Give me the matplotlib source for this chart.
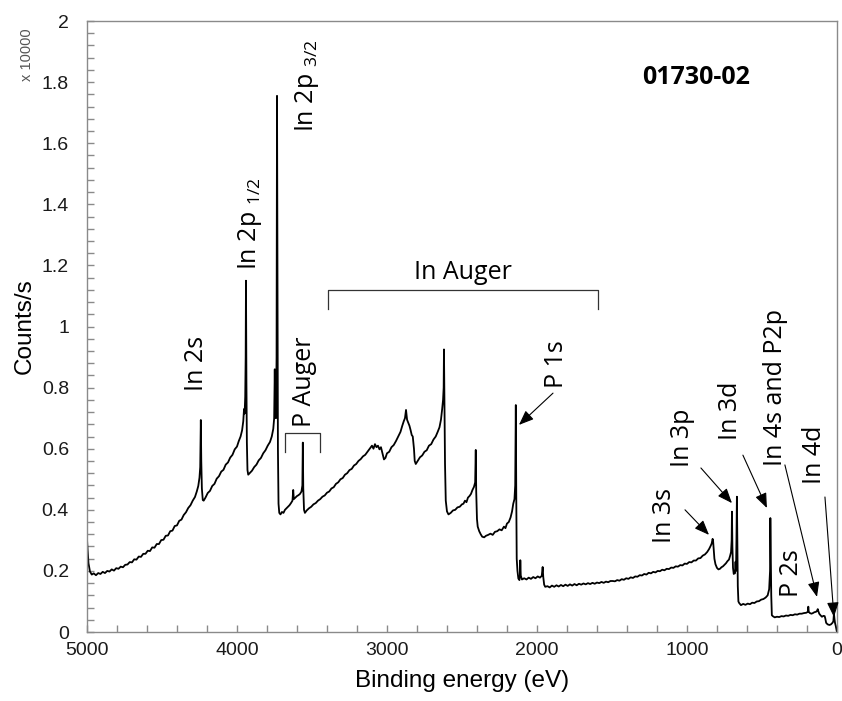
import matplotlib
matplotlib.use("Agg")
from matplotlib import pyplot as plt
from matplotlib.ticker import MultipleLocator, FuncFormatter

# survey spectrum (binding energy eV, counts/s in units of 10^4)
region_in2s = [(5000, 0.305), (4996, 0.27), (4990, 0.225), (4980, 0.198), (4968, 0.188),
               (4955, 0.192), (4940, 0.186), (4925, 0.193), (4910, 0.19), (4895, 0.197),
               (4880, 0.193), (4865, 0.2), (4850, 0.198), (4835, 0.205), (4820, 0.201),
               (4805, 0.209), (4790, 0.207), (4775, 0.214), (4760, 0.212), (4745, 0.22),
               (4730, 0.221), (4715, 0.229), (4700, 0.228), (4685, 0.238), (4670, 0.237),
               (4655, 0.247), (4640, 0.246), (4625, 0.256), (4610, 0.256), (4595, 0.266),
               (4580, 0.265), (4565, 0.277), (4550, 0.276), (4535, 0.288), (4520, 0.288),
               (4505, 0.301), (4490, 0.302), (4475, 0.315), (4460, 0.316), (4445, 0.33),
               (4430, 0.332), (4415, 0.347), (4400, 0.349), (4385, 0.364), (4370, 0.368),
               (4355, 0.383), (4340, 0.392), (4325, 0.406), (4310, 0.415), (4295, 0.43),
               (4280, 0.442), (4268, 0.46), (4258, 0.478), (4250, 0.505), (4245, 0.54),
               (4241, 0.694), (4238, 0.56), (4234, 0.47), (4228, 0.432), (4222, 0.43)]

region_in2p12 = [(4210, 0.44), (4195, 0.455), (4180, 0.462), (4165, 0.478), (4150, 0.485),
                 (4135, 0.502), (4120, 0.51), (4105, 0.525), (4090, 0.531), (4075, 0.548),
                 (4060, 0.555), (4045, 0.571), (4030, 0.58), (4015, 0.598), (4000, 0.607),
                 (3988, 0.625), (3976, 0.64), (3966, 0.66), (3958, 0.69), (3953, 0.73),
                 (3949, 0.715), (3945, 0.77), (3942, 0.9), (3940, 1.15), (3937, 0.82),
                 (3934, 0.62), (3930, 0.53), (3925, 0.515)]

region_in2p32 = [(3915, 0.52), (3900, 0.528), (3885, 0.54), (3870, 0.548), (3855, 0.562),
                 (3840, 0.57), (3825, 0.585), (3810, 0.595), (3795, 0.61), (3780, 0.622),
                 (3768, 0.64), (3758, 0.665), (3752, 0.7), (3748, 0.86), (3745, 0.72),
                 (3740, 0.7), (3736, 0.9), (3733, 1.755), (3730, 1.1), (3727, 0.6),
                 (3723, 0.42), (3718, 0.39)]

region_p_auger = [(3710, 0.385), (3700, 0.393), (3690, 0.39), (3680, 0.4), (3670, 0.405),
                  (3660, 0.41), (3650, 0.415), (3640, 0.422), (3630, 0.43), (3625, 0.465),
                  (3621, 0.435), (3610, 0.44), (3600, 0.445), (3590, 0.448), (3580, 0.452),
                  (3570, 0.46), (3564, 0.48), (3561, 0.62), (3558, 0.47), (3553, 0.4),
                  (3547, 0.39)]

region_in_auger = [(3535, 0.398), (3520, 0.405), (3505, 0.41), (3490, 0.418), (3475, 0.422),
                   (3460, 0.43), (3445, 0.435), (3430, 0.443), (3415, 0.447), (3400, 0.456),
                   (3385, 0.46), (3370, 0.47), (3355, 0.474), (3340, 0.485), (3325, 0.49),
                   (3310, 0.5), (3295, 0.504), (3280, 0.515), (3265, 0.52), (3250, 0.53),
                   (3235, 0.534), (3220, 0.545), (3205, 0.55), (3190, 0.56), (3175, 0.566),
                   (3160, 0.575), (3145, 0.58), (3130, 0.59), (3115, 0.6), (3100, 0.61),
                   (3090, 0.6), (3080, 0.615), (3070, 0.605), (3060, 0.61), (3050, 0.598),
                   (3040, 0.605), (3030, 0.585), (3020, 0.565), (3010, 0.57), (3000, 0.585),
                   (2985, 0.59), (2970, 0.605), (2955, 0.612), (2940, 0.625), (2925, 0.64),
                   (2910, 0.655), (2898, 0.675), (2888, 0.69), (2880, 0.7), (2873, 0.727),
                   (2866, 0.695), (2858, 0.685), (2850, 0.675), (2842, 0.66), (2835, 0.645),
                   (2828, 0.64), (2820, 0.6), (2815, 0.56), (2808, 0.55), (2795, 0.56),
                   (2780, 0.572), (2765, 0.578), (2750, 0.59), (2735, 0.595), (2720, 0.61),
                   (2705, 0.615), (2690, 0.63), (2675, 0.64), (2662, 0.655), (2650, 0.67),
                   (2640, 0.695), (2632, 0.73), (2626, 0.76), (2622, 0.8), (2620, 0.925),
                   (2617, 0.75), (2613, 0.55), (2608, 0.43), (2600, 0.395), (2590, 0.385)]

region_mid = [(2575, 0.39), (2560, 0.398), (2545, 0.4), (2530, 0.408), (2515, 0.41),
              (2500, 0.418), (2490, 0.42), (2480, 0.43), (2470, 0.425), (2460, 0.44),
              (2450, 0.445), (2440, 0.452), (2430, 0.465), (2420, 0.475), (2412, 0.49),
              (2408, 0.596), (2405, 0.46), (2400, 0.37), (2395, 0.345), (2385, 0.33),
              (2375, 0.32), (2365, 0.312), (2352, 0.31)]

region_p1s = [(2340, 0.315), (2325, 0.318), (2310, 0.322), (2295, 0.318), (2280, 0.328),
              (2265, 0.33), (2250, 0.336), (2235, 0.333), (2220, 0.345), (2210, 0.34),
              (2200, 0.355), (2188, 0.36), (2176, 0.375), (2166, 0.395), (2158, 0.42),
              (2150, 0.435), (2145, 0.48), (2141, 0.743), (2138, 0.45), (2135, 0.24),
              (2130, 0.2), (2124, 0.175), (2117, 0.17), (2113, 0.19), (2111, 0.235),
              (2108, 0.185), (2100, 0.172)]

region_flat = [(2085, 0.176), (2070, 0.172), (2055, 0.178), (2040, 0.174), (2025, 0.18),
               (2010, 0.176), (1995, 0.182), (1980, 0.178), (1968, 0.184), (1962, 0.213),
               (1958, 0.18), (1952, 0.155), (1945, 0.148), (1930, 0.15), (1915, 0.146),
               (1900, 0.152), (1885, 0.148), (1870, 0.153), (1855, 0.149), (1840, 0.154),
               (1825, 0.15), (1810, 0.155), (1795, 0.151), (1780, 0.156), (1765, 0.152),
               (1750, 0.157), (1735, 0.153), (1720, 0.158), (1705, 0.155), (1690, 0.159),
               (1675, 0.156), (1660, 0.16), (1645, 0.157), (1630, 0.161), (1615, 0.158),
               (1600, 0.162), (1585, 0.16), (1570, 0.164), (1555, 0.161), (1540, 0.165),
               (1525, 0.163), (1510, 0.167), (1495, 0.167), (1480, 0.166), (1465, 0.17),
               (1450, 0.168), (1435, 0.173), (1420, 0.171), (1405, 0.176), (1390, 0.174),
               (1375, 0.179), (1360, 0.177), (1345, 0.182), (1330, 0.181), (1315, 0.186),
               (1300, 0.185), (1285, 0.19), (1270, 0.188), (1255, 0.194), (1240, 0.192),
               (1225, 0.197), (1210, 0.195), (1195, 0.2), (1180, 0.199), (1165, 0.204),
               (1150, 0.202), (1135, 0.207), (1120, 0.206), (1105, 0.211), (1090, 0.21),
               (1075, 0.215), (1060, 0.214), (1045, 0.219), (1030, 0.218), (1015, 0.224),
               (1000, 0.223), (985, 0.229), (970, 0.228), (955, 0.234), (940, 0.234),
               (925, 0.241), (910, 0.242), (895, 0.25), (880, 0.254), (865, 0.262),
               (852, 0.272), (842, 0.282), (835, 0.29)]

region_low = [(829, 0.305), (826, 0.3), (822, 0.275), (817, 0.24), (810, 0.222), (800, 0.21),
              (790, 0.205), (780, 0.207), (770, 0.212), (760, 0.215), (750, 0.22), (740, 0.225),
              (730, 0.232), (720, 0.237), (712, 0.25), (706, 0.262), (702, 0.3), (700, 0.394),
              (697, 0.28), (693, 0.21), (688, 0.19), (684, 0.195), (680, 0.192), (676, 0.23),
              (673, 0.2), (670, 0.3), (667, 0.443), (664, 0.3), (661, 0.15), (657, 0.1),
              (652, 0.095), (640, 0.088), (625, 0.092), (610, 0.089), (595, 0.093), (580, 0.091),
              (565, 0.096), (550, 0.095), (535, 0.1), (520, 0.101), (505, 0.106), (490, 0.108),
              (475, 0.113), (462, 0.12), (452, 0.14), (446, 0.2), (444, 0.373), (441, 0.25),
              (438, 0.12), (434, 0.055), (428, 0.052), (415, 0.048), (400, 0.05), (385, 0.049),
              (370, 0.052), (355, 0.051), (340, 0.054), (325, 0.053), (310, 0.056), (295, 0.055),
              (280, 0.058), (265, 0.057), (250, 0.06), (235, 0.06), (220, 0.062), (205, 0.063),
              (194, 0.066), (191, 0.083), (188, 0.066), (180, 0.062), (170, 0.06), (160, 0.062),
              (150, 0.065), (140, 0.066), (132, 0.07), (128, 0.075), (124, 0.068), (118, 0.06),
              (110, 0.055), (100, 0.05), (90, 0.053), (82, 0.052), (78, 0.045), (72, 0.03),
              (62, 0.025), (50, 0.023), (40, 0.025), (30, 0.03), (24, 0.035), (20, 0.06),
              (17, 0.045), (13, 0.03), (8, 0.02), (4, 0.01), (0, 0.0)]

# vertical peak labels: text, x (eV), bottom of text (counts)
peak_names = ["In 2s", "In 2p $_{\\mathregular{1/2}}$", "In 2p $_{\\mathregular{3/2}}$",
              "P Auger", "P 1s", "In 3s", "In 3p", "In 3d", "In 4s and P2p", "In 4d", "P 2s"]
peak_name_x = [4267, 3913, 3533, 3547, 1867, 1147, 1033, 713, 413, 147, 300]
peak_name_y = [0.79, 1.185, 1.637, 0.671, 0.80, 0.29, 0.54, 0.628, 0.543, 0.485, 0.115]

# arrows: tail and head (eV, counts)
arrow_tail_x = [1893, 1013, 907, 627, 347, 80]
arrow_tail_y = [0.782, 0.40, 0.537, 0.579, 0.547, 0.442]
arrow_head_x = [2120, 853, 700, 467, 133, 20]
arrow_head_y = [0.678, 0.318, 0.422, 0.406, 0.115, 0.049]

# brackets: (left eV, right eV, top, end)
in_auger_bracket = [3393, 1593, 1.12, 1.058]
p_auger_bracket = [3680, 3447, 0.651, 0.59]

sample_id = "01730-02"

all_regions = [region_in2s, region_in2p12, region_in2p32, region_p_auger,
               region_in_auger, region_mid, region_p1s, region_flat, region_low]
energy = [p[0] for r in all_regions for p in r]
counts = [p[1] for r in all_regions for p in r]

plt.rcParams['font.family'] = ['Liberation Sans', 'DejaVu Sans']
note_font = ['Open Sans', 'DejaVu Sans']
grey = '#8a8a8a'

fig = plt.figure(figsize=(8.42, 7.01), dpi=100)
ax = fig.add_axes([0.1033, 0.0984, 0.8907, 0.8716])

ax.plot(energy, counts, color='black', linewidth=1.3)

ax.set_xlim(5000, 0)
ax.set_ylim(0, 2)
ax.xaxis.set_major_locator(MultipleLocator(1000))
ax.xaxis.set_minor_locator(MultipleLocator(200))
ax.yaxis.set_major_locator(MultipleLocator(0.2))
ax.yaxis.set_minor_locator(MultipleLocator(0.04))
ax.yaxis.set_major_formatter(FuncFormatter(lambda v, p: "%g" % round(v, 2)))

for s in ax.spines.values():
    s.set_color(grey)
    s.set_linewidth(1.0)
ax.tick_params(which='both', direction='in', color=grey, length=5, width=1,
               labelsize=14, labelcolor='#1a1a1a')
ax.tick_params(axis='y', which='both', pad=13)
ax.tick_params(axis='x', which='both', pad=7)

ax.set_xlabel('Binding energy (eV)', fontsize=17.5, labelpad=8)
ax.set_ylabel('Counts/s', fontsize=17.5)
ax.yaxis.set_label_coords(-0.068, 0.5)
fig.text(27 / 842, 1 - 55 / 701, 'x 10000', rotation=90, ha='center', va='center',
         fontsize=10.5, color='#555555')

for name, x, y in zip(peak_names, peak_name_x, peak_name_y):
    ax.text(x, y, name, rotation=90, ha='center', va='bottom', fontsize=18,
            family=note_font)

for tx, ty, hx, hy in zip(arrow_tail_x, arrow_tail_y, arrow_head_x, arrow_head_y):
    ax.annotate('', xy=(hx, hy), xytext=(tx, ty),
                arrowprops=dict(arrowstyle='-|>,head_length=0.5,head_width=0.2',
                                color='black', lw=0.8, mutation_scale=18,
                                shrinkA=0, shrinkB=0))

for left, right, top, end in [in_auger_bracket, p_auger_bracket]:
    ax.plot([left, left, right, right], [end, top, top, end], color='#333333', linewidth=0.9)

ax.text((in_auger_bracket[0] + in_auger_bracket[1]) / 2, 1.178, 'In Auger',
        ha='center', va='center', fontsize=18, family=note_font)
ax.text(940, 1.815, sample_id, ha='center', va='center', fontsize=18,
        fontweight='bold', family=note_font)

fig.savefig('out.png', dpi=100)
